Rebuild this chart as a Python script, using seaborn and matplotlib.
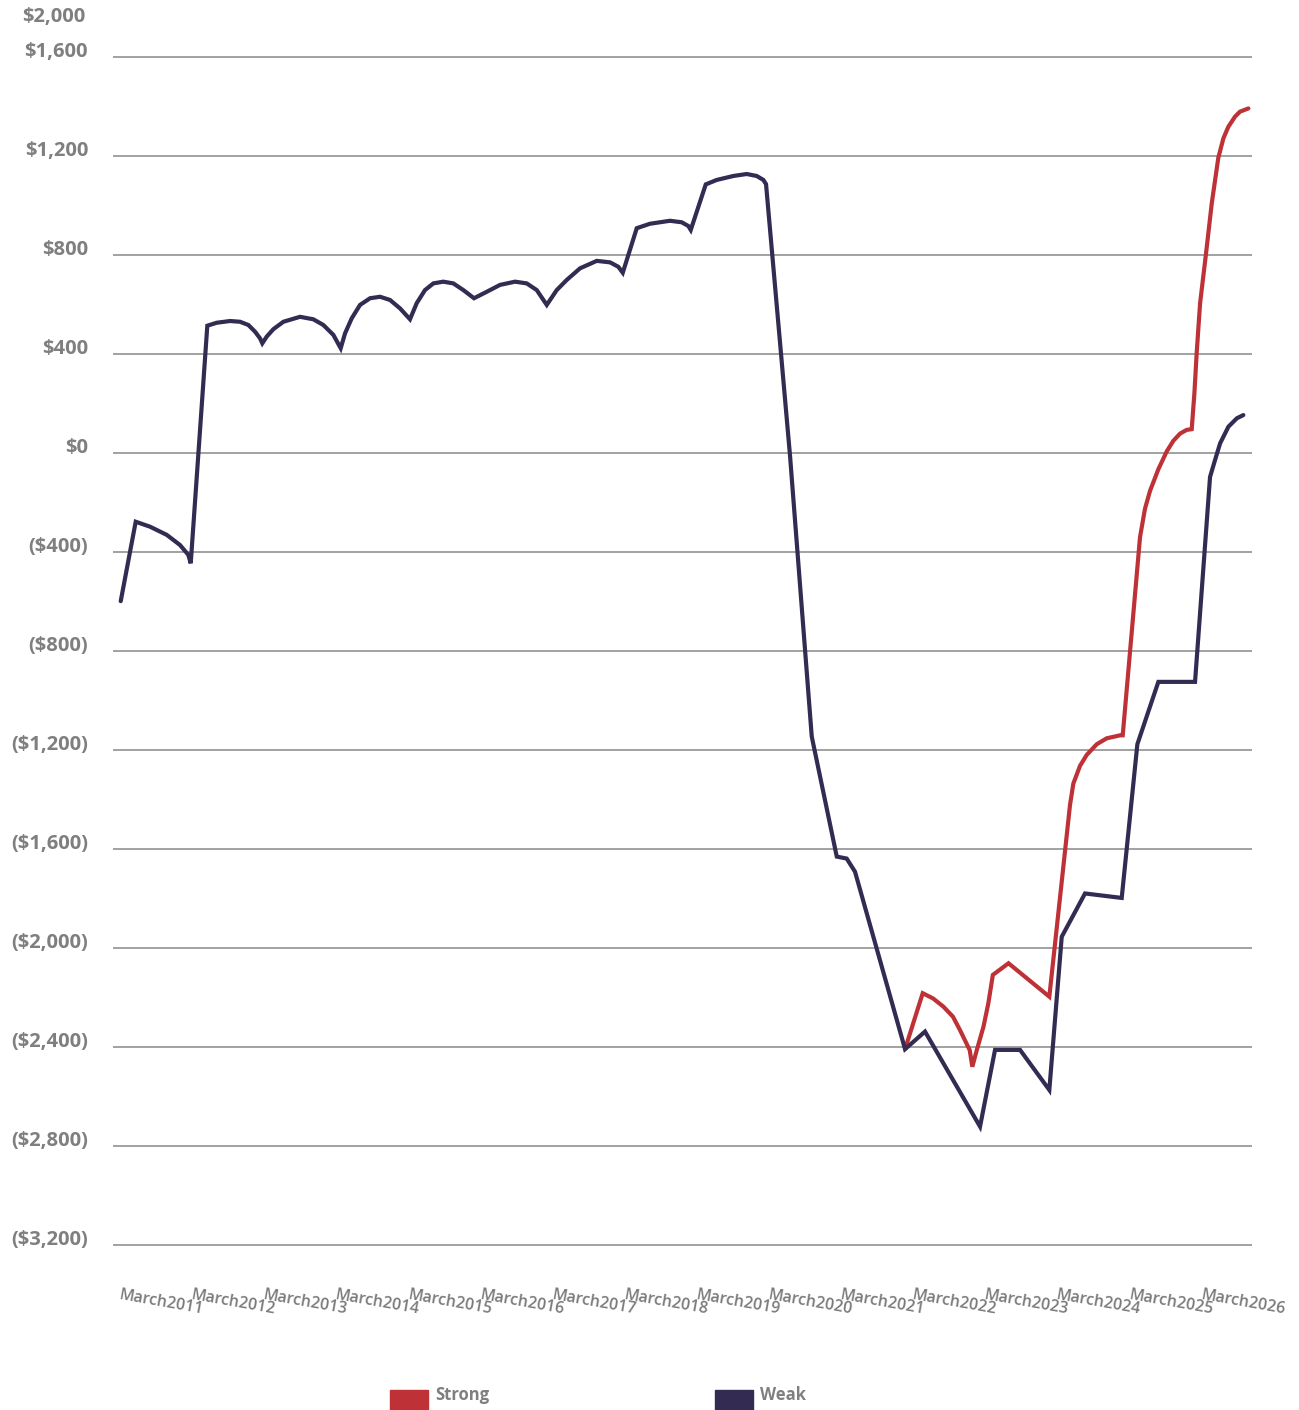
import matplotlib
matplotlib.use("Agg")
import matplotlib.pyplot as plt
import matplotlib.transforms as mtransforms
from matplotlib.patches import Rectangle
from matplotlib.ticker import FuncFormatter
import pandas as pd
import seaborn as sns

# ===== data =====
weak_year = [2011.000, 2011.208, 2011.406, 2011.638, 2011.822, 2011.938, 2011.971,
             2012.201, 2012.331, 2012.516, 2012.655, 2012.770, 2012.863, 2012.932, 2012.964,
             2013.025, 2013.117, 2013.256, 2013.487, 2013.671, 2013.810, 2013.949, 2014.051,
             2014.111, 2014.204, 2014.319, 2014.458, 2014.597, 2014.735, 2014.874, 2015.012,
             2015.105, 2015.220, 2015.336, 2015.474, 2015.613, 2015.752, 2015.900,
             2016.076, 2016.261, 2016.469, 2016.631, 2016.770, 2016.909,
             2017.047, 2017.186, 2017.371, 2017.602, 2017.787, 2017.902, 2017.963,
             2018.157, 2018.340, 2018.618, 2018.780, 2018.872, 2018.906,
             2019.114, 2019.266, 2019.497, 2019.682, 2019.821, 2019.913, 2019.950,
             2020.283, 2020.584, 2020.931, 2021.069, 2021.184,
             2021.878, 2022.155, 2022.918, 2023.126, 2023.473, 2023.879,
             2024.051, 2024.374, 2024.883, 2025.100, 2025.391, 2025.900,
             2026.108, 2026.178, 2026.248, 2026.363, 2026.480, 2026.570]
weak_val = [-600, -279, -299, -332, -373, -413, -447,
            513, 525, 532, 529, 516, 489, 462, 442,
            469, 499, 529, 549, 539, 516, 476, 422,
            482, 543, 597, 624, 630, 617, 583, 539,
            604, 657, 684, 691, 684, 657, 624,
            650, 678, 691, 684, 657, 597,
            657, 698, 745, 775, 769, 751, 727,
            907, 925, 937, 931, 916, 900,
            1084, 1102, 1118, 1126, 1118, 1102, 1085,
            -13, -1147, -1632, -1640, -1693,
            -2410, -2339, -2723, -2413, -2413, -2575,
            -1956, -1781, -1799, -1178, -926, -926,
            -98, -29, 38, 105, 139, 152]

strong_year = [2021.878, 2022.123, 2022.266, 2022.409, 2022.543, 2022.640, 2022.775, 2022.811,
               2022.873, 2022.966, 2023.033, 2023.096, 2023.313, 2023.879,
               2024.166, 2024.212, 2024.305, 2024.398, 2024.537, 2024.676, 2024.861, 2024.897,
               2025.137, 2025.206, 2025.276, 2025.391, 2025.507, 2025.599, 2025.692, 2025.784, 2025.854,
               2025.891, 2025.923, 2025.970, 2026.052, 2026.132, 2026.223, 2026.293, 2026.362,
               2026.455, 2026.524, 2026.640]
strong_val = [-2410, -2184, -2205, -2238, -2279, -2333, -2414, -2481,
              -2414, -2319, -2225, -2110, -2063, -2198,
              -1423, -1337, -1265, -1221, -1178, -1154, -1142, -1142,
              -341, -226, -154, -67, 5, 48, 77, 92, 95,
              240, 404, 604, 804, 1008, 1192, 1270, 1317,
              1358, 1378, 1391]

years = list(range(2011, 2027))
x_labels = [f"March{y}" for y in years]
y_ticks = [1600, 1200, 800, 400, 0, -400, -800, -1200, -1600, -2000, -2400, -2800, -3200]
series = ["Strong", "Weak"]
colors = {"Strong": "#BE3136", "Weak": "#332B52"}

df = pd.concat([
    pd.DataFrame({"year": strong_year, "value": strong_val, "series": "Strong"}),
    pd.DataFrame({"year": weak_year, "value": weak_val, "series": "Weak"}),
], ignore_index=True)

# ===== style =====
sns.set_theme(style="white")
plt.rcParams["font.family"] = ["Open Sans", "DejaVu Sans"]

fig = plt.figure(figsize=(12.99, 14.10), dpi=100)
ax = fig.add_axes([0.08699, 0.11638, 0.87683, 0.84429])

sns.lineplot(data=df, x="year", y="value", hue="series", hue_order=series,
             palette=colors, estimator=None, sort=False, legend=False,
             linewidth=3.0, solid_joinstyle="miter", ax=ax)

ax.set_xlim(2010.893, 2026.690)
ax.set_ylim(-3205, 1605)
ax.set_yticks(y_ticks)
ax.yaxis.set_major_formatter(FuncFormatter(
    lambda v, p: f"${v:,.0f}" if v >= 0 else f"(${-v:,.0f})"))
ax.set_xticks(years)
ax.set_xticklabels(x_labels)
ax.set_xlabel("")
ax.set_ylabel("")

ax.grid(axis="y", color="#9A9A9A", linewidth=1.3)
ax.grid(axis="x", visible=False)
for s in ax.spines.values():
    s.set_visible(False)
ax.tick_params(axis="both", length=0)
ax.tick_params(axis="y", pad=18, labelsize=14.5, labelcolor="#7F7F7F")
ax.tick_params(axis="x", pad=30, labelsize=11.5, labelcolor="#7A7A7A")

shift = mtransforms.ScaledTranslation(0, 5.5 / 72, fig.dpi_scale_trans)
for lab in ax.get_yticklabels():
    lab.set_fontweight("bold")
    lab.set_transform(lab.get_transform() + shift)
for lab in ax.get_xticklabels():
    lab.set_fontweight("semibold")
    lab.set_rotation(-10)
    lab.set_ha("left")
    lab.set_va("top")
    lab.set_rotation_mode("anchor")

# top label above the plotted range
fig.text(22 / 1299, 1 - 17 / 1410, "$2,000", ha="left", va="center",
         fontsize=14.5, fontweight="bold", color="#7F7F7F")

# legend
for name, x0 in zip(series, [390, 715]):
    fig.patches.append(Rectangle((x0 / 1299, 0), 38 / 1299, 20 / 1410,
                                 transform=fig.transFigure, color=colors[name]))
    fig.text((x0 + 45) / 1299, 1 - 1395 / 1410, name, ha="left", va="center",
             fontsize=12, fontweight="bold", color="#7F7F7F")

fig.savefig("out.png", dpi=100)
